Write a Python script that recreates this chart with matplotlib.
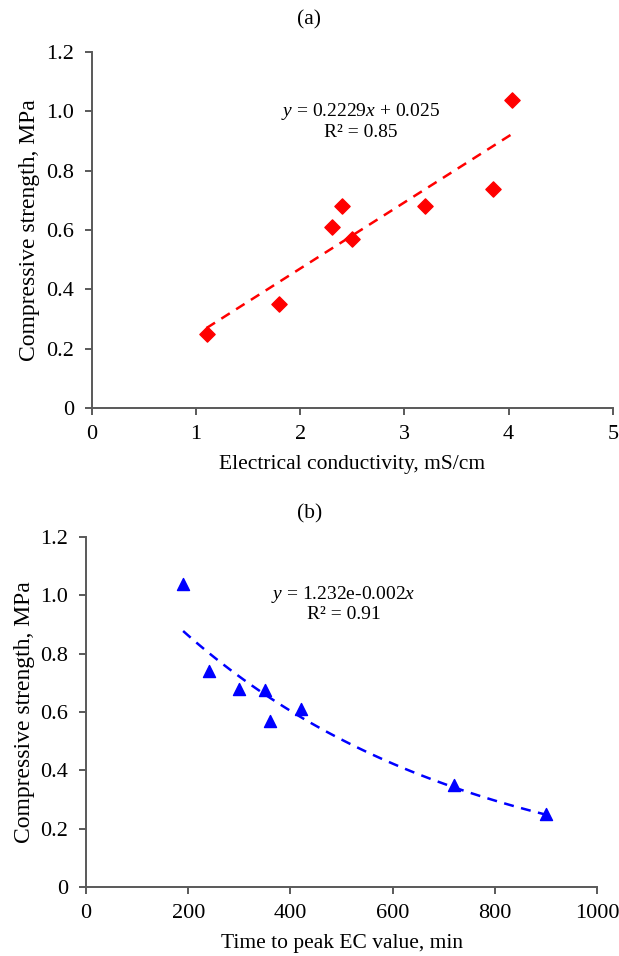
import numpy as np
import matplotlib
matplotlib.use("Agg")
import matplotlib.pyplot as plt

# panel (a): electrical conductivity vs strength
ec = [1.1, 1.8, 2.3, 2.4, 2.5, 3.2, 3.85, 4.03]
strength_a = [0.25, 0.35, 0.61, 0.68, 0.57, 0.68, 0.74, 1.04]

# panel (b): time to peak EC vs strength
t_peak = [190, 240, 300, 350, 360, 420, 720, 900]
strength_b = [1.04, 0.74, 0.68, 0.675, 0.57, 0.61, 0.35, 0.25]

plt.rcParams["font.family"] = ["Liberation Serif", "DejaVu Serif"]
plt.rcParams["mathtext.fontset"] = "custom"
plt.rcParams["mathtext.it"] = "Liberation Serif:italic"
plt.rcParams["mathtext.rm"] = "Liberation Serif"

fig = plt.figure(figsize=(6.19, 9.56), dpi=100)
ax_a = fig.add_axes([0.1486, 0.573, 0.8414, 0.3726])
ax_b = fig.add_axes([0.139, 0.0722, 0.8255, 0.3661])

gray = "#595959"


def style(ax):
    for s in ("top", "right"):
        ax.spines[s].set_visible(False)
    for s in ("left", "bottom"):
        ax.spines[s].set_color(gray)
        ax.spines[s].set_linewidth(1.4)
    ax.tick_params(direction="out", length=5, width=1.4, color=gray,
                   labelsize=16, labelcolor="black")
    ax.tick_params(axis="y", pad=8)
    ax.tick_params(axis="x", pad=7)
    ax.set_ylim(0, 1.2)
    ax.set_yticks(np.arange(0, 1.21, 0.2))
    ax.set_yticklabels(["0", "0.2", "0.4", "0.6", "0.8", "1.0", "1.2"])
    ax.set_ylabel("Compressive strength, MPa", fontsize=17, labelpad=4)


# (a)
style(ax_a)
ax_a.scatter(ec, strength_a, marker="D", s=60, color="red", zorder=3)
slope, icpt = np.polyfit(ec, strength_a, 1)
xs = np.linspace(min(ec), max(ec), 50)
ax_a.plot(xs, slope * xs + icpt, "--", color="red", lw=1.8, dashes=(4, 3))
ax_a.set_xlim(0, 5)
ax_a.set_xticks(range(0, 6))
ax_a.set_xlabel("Electrical conductivity, mS/cm", fontsize=15.5, labelpad=8)
ax_a.text(0.516, 0.806, r"$y$ = 0.2229$x$ + 0.025" + "\nR² = 0.85",
          transform=ax_a.transAxes, ha="center", va="center",
          fontsize=14, linespacing=1.1)
fig.text(0.5, 0.979, "(a)", ha="center", va="center", fontsize=15.5)

# (b)
style(ax_b)
ax_b.scatter(t_peak, strength_b, marker="^", s=75, color="blue", zorder=3)
k, lna = np.polyfit(t_peak, np.log(strength_b), 1)
xs = np.linspace(min(t_peak), max(t_peak), 80)
ax_b.plot(xs, np.exp(lna) * np.exp(k * xs), "--", color="blue", lw=1.8,
          dashes=(4, 3))
ax_b.set_xlim(0, 1000)
ax_b.set_xticks(range(0, 1001, 200))
ax_b.set_xlabel("Time to peak EC value, min", fontsize=15.5, labelpad=8)
ax_b.text(0.504, 0.809, r"$y$ = 1.232e-0.002$x$" + "\nR² = 0.91",
          transform=ax_b.transAxes, ha="center", va="center",
          fontsize=14, linespacing=1.1)
fig.text(0.5, 0.463, "(b)", ha="center", va="center", fontsize=15.5)

fig.savefig("out.png", dpi=100)
